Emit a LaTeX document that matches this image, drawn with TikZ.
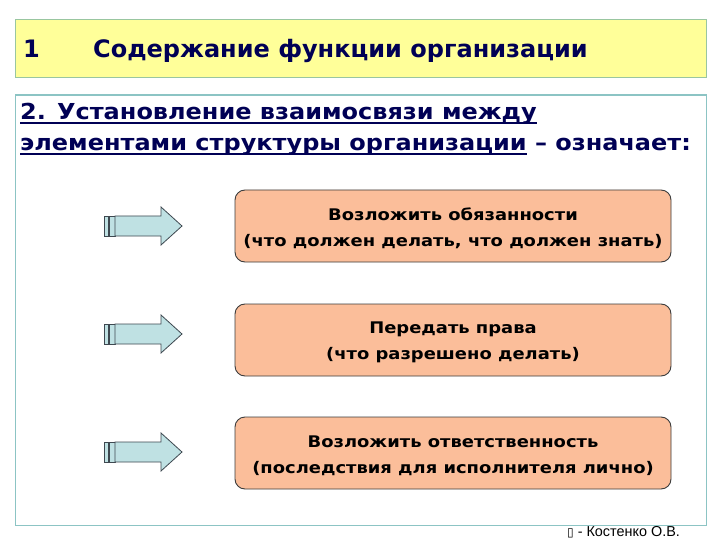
\documentclass[tikz,border=0pt]{standalone}
\usepackage{fontspec}
\setmainfont{DejaVu Sans}
\newfontfamily\leadfont[FakeStretch=1.09]{DejaVu Sans}
\newfontfamily\boxfont[FakeStretch=1.12]{DejaVu Sans}
\newfontfamily\footfont{Liberation Sans}
\definecolor{titlefill}{HTML}{FFFF99}
\definecolor{titleline}{HTML}{99C6A0}
\definecolor{bodyline}{HTML}{8CC4C4}
\definecolor{navy}{HTML}{000055}
\definecolor{boxfill}{HTML}{FBBE9A}
\definecolor{boxline}{HTML}{3C3C3C}
\definecolor{arrowfill}{HTML}{BFE1E3}
\definecolor{arrowline}{HTML}{3E4850}
\newcommand{\thickul}[1]{\setbox0\hbox{#1}\rlap{\rule[-4pt]{\wd0}{1.8pt}}\box0\relax}
\tikzset{
  x=1pt,y=-1pt,
  panel/.style={draw=bodyline,line width=1.2pt,fill=white},
  actbox/.style={draw=boxline,line width=0.9pt,fill=boxfill,rounded corners=10pt,
    minimum width=436pt,minimum height=72pt,inner sep=0pt},
  acttext/.style={align=center,inner sep=0pt,yshift=-2.5pt,
    font=\boxfont\bfseries\fontsize{16}{26}\selectfont},
  arrowpart/.style={draw=arrowline,line width=0.8pt,fill=arrowfill},
  titletext/.style={anchor=base west,text=navy,inner sep=0pt,font=\bfseries\fontsize{24}{28}\selectfont},
  leadtext/.style={anchor=base west,text=navy,inner sep=0pt,font=\leadfont\bfseries\fontsize{22}{26}\selectfont},
}
\newcommand{\myarrow}[2]{%
  \path[arrowpart] (#1+0,#2-10) rectangle (#1+4,#2+10);
  \path[arrowpart] (#1+5,#2-10) rectangle (#1+11,#2+10);
  \path[arrowpart] (#1+11,#2-10) -- (#1+57,#2-10) -- (#1+57,#2-19) -- (#1+78,#2)
     -- (#1+57,#2+19) -- (#1+57,#2+10) -- (#1+11,#2+10) -- cycle;
}
\begin{document}
\begin{tikzpicture}
\useasboundingbox (0,0) rectangle (720,540);
\fill[white] (0,0) rectangle (720,540);
% title
\node[draw=titleline,line width=1.2pt,fill=titlefill,minimum width=691pt,minimum height=58pt,
  anchor=north west,inner sep=0pt] (title) at (14.5,19) {};
\node[titletext] (tnum) at (23,58) {1};
\node[titletext] (ttext) at (93,58) {Содержание функции организации};
% body panel
\node[panel,minimum width=691pt,minimum height=430pt,anchor=north west,inner sep=0pt] (body) at (14.5,94.5) {};
\node[leadtext] (lead1) at (20,120) {\thickul{2. Установление взаимосвязи между}};
\node[leadtext] (lead2) at (20,151) {\thickul{элементами структуры организации} – означает:};
% boxes
\node[actbox] (b1) at (453,226) {};
\node[acttext] (b1t) at (b1.center) {Возложить обязанности\\(что должен делать, что должен знать)};
\node[actbox] (b2) at (453,340) {};
\node[acttext] (b2t) at (b2.center) {Передать права\\(что разрешено делать)};
\node[actbox] (b3) at (453,453) {};
\node[acttext] (b3t) at (b3.center) {Возложить ответственность\\(последствия для исполнителя лично)};
% arrows
\myarrow{104}{226}
\myarrow{104}{334}
\myarrow{104}{452}
% footer
\node[anchor=base west,inner sep=0pt,font=\footfont\fontsize{14.4}{16}\selectfont] (foot) at (567,536)
  {{\fontspec{DejaVu Sans}\fontsize{12}{12}\selectfont ▯} - Костенко О.В.};
\end{tikzpicture}
\end{document}
